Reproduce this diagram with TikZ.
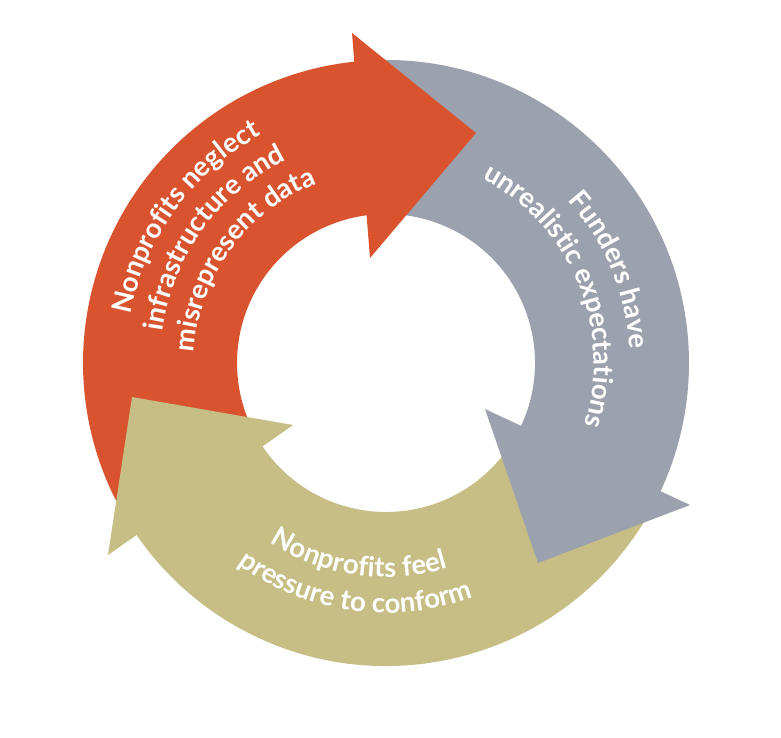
\documentclass[tikz,border=0pt]{standalone}
\usepackage{fontspec}
\setmainfont{Lato}
\usetikzlibrary{decorations.text}
\definecolor{cred}{HTML}{D8532E}
\definecolor{cgray}{HTML}{9CA1AE}
\definecolor{ckhaki}{HTML}{C6BE85}
\newcommand{\lblfont}{\bfseries\fontsize{27.5}{27.5}\selectfont}
\begin{document}
\begin{tikzpicture}[x=1pt,y=1pt,
  lbl/.style={decorate, decoration={text along path, text align=center, text color=white}}]
\useasboundingbox[fill=white] (-386,-374) rectangle (395,363);
\coordinate (C) at (0,0);
% bodies
\fill[cred] (95.5:303) arc[start angle=95.5,end angle=210.5,radius=303] -- (210.5:149) arc[start angle=210.5,end angle=95.5,radius=149] -- cycle;
\fill[cgray] (93:303) arc[start angle=93,end angle=-27,radius=303] -- (-27:149) arc[start angle=-27,end angle=93,radius=149] -- cycle;
\fill[ckhaki] (-29:303) arc[start angle=-29,end angle=-147.5,radius=303] -- (-147.5:149) arc[start angle=-147.5,end angle=-29,radius=149] -- cycle;
% heads
\fill[cred] (-34,330) coordinate (rb1) -- (90,230) coordinate (rt) -- (-16,105) coordinate (rb2) -- cycle;
\fill[cgray] (99,-46) coordinate (gb1) -- (152,-200) coordinate (gt) -- (304,-142) coordinate (gb2) -- cycle;
\fill[ckhaki] (-278,-192) coordinate (kb1) -- (-254,-34) coordinate (kt) -- (-93,-62) coordinate (kb2) -- cycle;
% red text
\path[lbl, decoration={text={|\lblfont|Nonprofits neglect}}] (194:260) arc[start angle=194,end angle=94,radius=260];
\path[lbl, decoration={text={|\lblfont|infrastructure and}}] (194:226) arc[start angle=194,end angle=94,radius=226];
\path[lbl, decoration={text={|\lblfont|misrepresent data}}] (194:192) arc[start angle=194,end angle=94,radius=192];
% gray text
\path[lbl, decoration={text={|\lblfont|Funders have}}] (72.5:244) arc[start angle=72.5,end angle=-27.5,radius=244];
\path[lbl, decoration={text={|\lblfont|unrealistic expectations}}] (72.5:208) arc[start angle=72.5,end angle=-27.5,radius=208];
% khaki text
\path[lbl, decoration={text={|\lblfont|Nonprofits feel}}] (212:214) arc[start angle=212,end angle=312,radius=214];
\path[lbl, decoration={text={|\lblfont|pressure to conform}}] (212:250) arc[start angle=212,end angle=312,radius=250];
\end{tikzpicture}
\end{document}
